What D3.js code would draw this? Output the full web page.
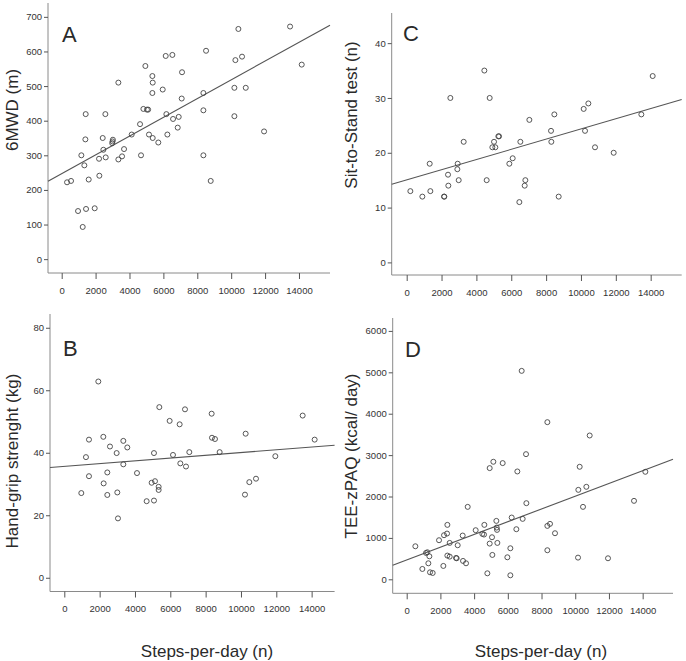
<!DOCTYPE html>
<html>
<head>
<meta charset="utf-8">
<script src="https://cdn.jsdelivr.net/npm/d3@7/dist/d3.min.js"></script>
<style>
  html, body { margin: 0; padding: 0; background: #fff; }
  svg { display: block; }
  .tick text { font-family: "Liberation Sans Narrow", "Arial Narrow", "Liberation Sans", sans-serif; font-size: 9.5px; fill: #333; }
  .lab { font-family: "Liberation Sans", Arial, sans-serif; fill: #2a2a2a; }
</style>
</head>
<body>
<svg id="chart" width="686" height="661"></svg>
<script>
// ---------- DATA ----------
const xTicks = [0, 2000, 4000, 6000, 8000, 10000, 12000, 14000];

// Panel A: 6MWD (m)
const aSteps = [315,551,964,1160,1240,1337,1397,1416,1436,1593,1947,2203,2222,2420,2459,2577,2597,2980,3000,3020,3344,3344,3560,3678,4130,4622,4680,4820,4937,5030,5100,5150,5350,5370,5350,5370,5700,5960,6137,6176,6235,6530,6570,6845,6904,7080,7100,8360,8360,8360,8517,8792,10189,10189,10248,10425,10640,10860,11940,13474,14162];
const aValues = [222,226,139,300,93,271,346,419,145,230,147,290,241,350,316,419,294,335,340,345,510,288,297,318,360,390,300,434,558,432,432,360,529,510,480,350,337,490,587,419,360,590,405,380,411,464,540,480,430,300,602,226,413,495,575,665,585,495,369,672,562];
const aTicks = [0,100,200,300,400,500,600,700];
const aFit = [247, 0.0271]; // intercept, slope

// Panel C: Sit-to-Stand test (n)
const cSteps = [210,899,1320,1358,2142,2160,2372,2390,2505,2907,2926,2984,3270,4456,4590,4762,4915,5011,5087,5260,5300,5891,6082,6465,6522,6770,6809,7038,8282,8300,8473,8721,10156,10233,10424,10806,11877,13465,14115];
const cValues = [13,12,18,13,12,12,16,14,30,17,18,15,22,35,15,30,21,22,21,23,23,18,19,11,22,14,15,26,24,22,27,12,28,24,29,21,20,27,34];
const cTicks = [0,10,20,30,40];
const cFit = [15.04, 0.000931];

// Panel B: Hand-grip strenght (kg)
const bSteps = [962,1226,1396,1396,1925,2208,2227,2434,2434,2585,2963,3000,3038,3340,3340,3566,4114,4661,4944,5076,5076,5133,5340,5340,5378,5963,6152,6529,6567,6831,6888,7076,8340,8359,8529,8793,10227,10265,10473,10850,11945,13492,14171];
const bValues = [27.1,38.6,44.2,32.5,62.8,45.1,30.2,33.7,26.5,42.0,39.9,27.3,19.0,43.8,36.3,41.7,33.5,24.5,30.4,39.9,24.7,30.9,29.1,28.1,54.6,50.2,39.3,49.1,36.6,53.9,35.6,40.2,52.5,44.8,44.4,40.2,26.6,46.1,30.6,31.7,38.9,51.9,44.2];
const bTicks = [0,20,40,60,80];
const bFit = [35.64, 0.000443];

// Panel D: TEE-zPAQ (kcal/ day)
const dSteps = [514,929,1147,1226,1285,1345,1384,1542,1918,2175,2215,2393,2413,2413,2551,2551,2927,2966,3026,3322,3342,3520,3619,4093,4489,4588,4608,4786,4924,4924,5062,5082,5142,5320,5339,5359,5379,5695,5972,6150,6150,6229,6506,6565,6822,6881,7080,7100,8345,8345,8345,8503,8800,10165,10184,10263,10461,10659,10857,11944,13487,14159];
const dValues = [798,250,637,653,387,556,169,153,944,323,1065,1105,1315,573,879,548,516,508,823,1057,444,387,1750,1186,1097,1081,1315,145,863,2686,1016,589,2839,1411,1250,1194,879,2807,532,750,97,1492,1210,2605,5035,1460,3023,1839,3796,1290,702,1339,1113,524,2161,2718,1750,2234,3474,508,1895,2597];
const dTicks = [0,1000,2000,3000,4000,5000,6000];
const dFit = [467, 0.154];

// ---------- LAYOUT ----------
const panels = [
  { letter: "A", label: "6MWD (m)", xs: aSteps, ys: aValues, yt: aTicks, fit: aFit,
    xd: [-808, 15830], xr: [48, 330], yd: [-40, 740], yr: [273, 3],
    lx: 18, ly: 110, px: 62, py: 42 },
  { letter: "C", label: "Sit-to-Stand test (n)", xs: cSteps, ys: cValues, yt: cTicks, fit: cFit,
    xd: [-860, 15780], xr: [391.7, 681.7], yd: [-2.3, 45.5], yr: [275, 13],
    lx: 357, ly: 115, px: 403, py: 41 },
  { letter: "B", label: "Hand-grip strenght (kg)", xs: bSteps, ys: bValues, yt: bTicks, fit: bFit,
    xd: [-810, 15300], xr: [50, 334.6], yd: [-4.4, 84.4], yr: [591.5, 314],
    lx: 18, ly: 461, px: 63, py: 356, xl: "Steps-per-day (n)", xlx: 207 },
  { letter: "D", label: "TEE-zPAQ (kcal/ day)", xs: dSteps, ys: dValues, yt: dTicks, fit: dFit,
    xd: [-830, 15800], xr: [392.7, 673], yd: [-338, 6312], yr: [593.3, 318],
    lx: 357, ly: 456, px: 405, py: 356.5, xl: "Steps-per-day (n)", xlx: 541 }
];

const svg = d3.select("#chart");
const axisColor = "#8a8a8a";
const fmt = d3.format("d");

panels.forEach(p => {
  const x = d3.scaleLinear().domain(p.xd).range(p.xr);
  const y = d3.scaleLinear().domain(p.yd).range(p.yr);
  const g = svg.append("g");

  // y axis
  const ya = g.append("g").attr("transform", `translate(${p.xr[0]},0)`)
    .call(d3.axisLeft(y).tickValues(p.yt).tickFormat(fmt).tickSize(4).tickPadding(2).tickSizeOuter(0));
  ya.select(".domain").attr("stroke", axisColor).attr("d", `M0,${p.yr[0]}V${p.yr[1]}`);
  ya.selectAll(".tick line").attr("stroke", "#555");

  // x axis
  const xa = g.append("g").attr("transform", `translate(0,${p.yr[0]})`)
    .call(d3.axisBottom(x).tickValues(xTicks).tickFormat(fmt).tickSize(6).tickPadding(8).tickSizeOuter(0));
  xa.select(".domain").attr("stroke", axisColor).attr("d", `M${p.xr[0]},0H${p.xr[1]}`);
  xa.selectAll(".tick line").attr("stroke", "#555");

  // fit line
  const x0 = p.xd[0], x1 = p.xd[1];
  g.append("line")
    .attr("x1", x(x0)).attr("y1", y(p.fit[0] + p.fit[1] * x0))
    .attr("x2", x(x1)).attr("y2", y(p.fit[0] + p.fit[1] * x1))
    .attr("stroke", "#555").attr("stroke-width", 1.1);

  // points
  g.selectAll("circle.pt").data(p.xs.map((v, i) => [v, p.ys[i]])).join("circle")
    .attr("class", "pt")
    .attr("cx", d => x(d[0])).attr("cy", d => y(d[1])).attr("r", 2.5)
    .attr("fill", "none").attr("stroke", "#444").attr("stroke-width", 0.9);

  // panel letter
  g.append("text").attr("class", "lab").attr("x", p.px).attr("y", p.py)
    .attr("font-size", 22).text(p.letter);

  // y label
  g.append("text").attr("class", "lab")
    .attr("transform", `translate(${p.lx},${p.ly}) rotate(-90)`)
    .attr("text-anchor", "middle").attr("font-size", 17).text(p.label);

  // x label
  if (p.xl) {
    g.append("text").attr("class", "lab").attr("x", p.xlx).attr("y", 657)
      .attr("text-anchor", "middle").attr("font-size", 17).text(p.xl);
  }
});
</script>
</body>
</html>
